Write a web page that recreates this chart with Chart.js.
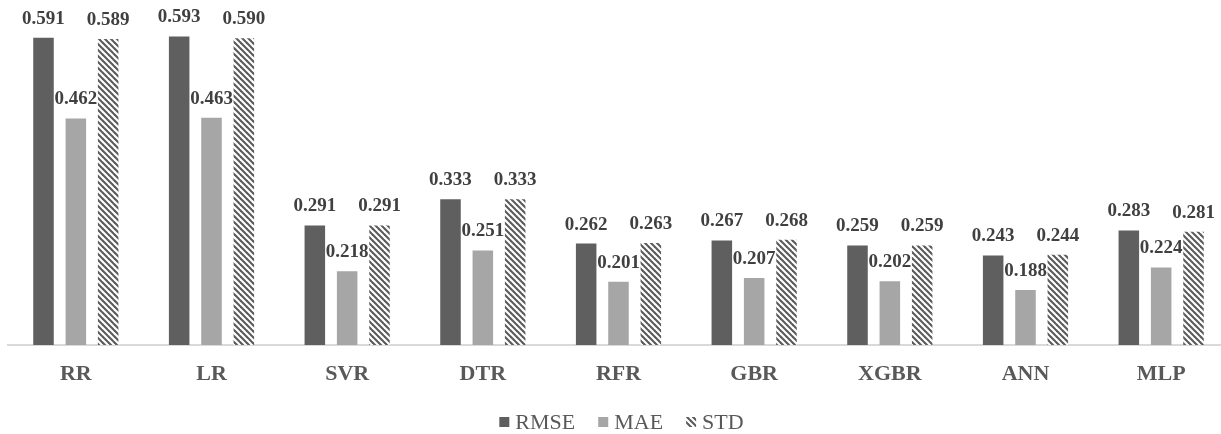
<!DOCTYPE html>
<html>
<head>
<meta charset="utf-8">
<script src="https://cdn.jsdelivr.net/npm/chart.js@4/dist/chart.umd.min.js"></script>
<style>
  html, body { margin: 0; padding: 0; background: #ffffff; overflow: hidden; }
  #wrap { position: relative; width: 1229px; height: 443px; }
</style>
</head>
<body>
<div id="wrap"><canvas id="chart"></canvas></div>
<script>
// Model names along the x axis
const models = ['RR', 'LR', 'SVR', 'DTR', 'RFR', 'GBR', 'XGBR', 'ANN', 'MLP'];

// Error metrics per model
const rmse = [0.591, 0.593, 0.291, 0.333, 0.262, 0.267, 0.259, 0.243, 0.283];
const mae  = [0.462, 0.463, 0.218, 0.251, 0.201, 0.207, 0.202, 0.188, 0.224];
const std  = [0.589, 0.590, 0.291, 0.333, 0.263, 0.268, 0.259, 0.244, 0.281];

const SERIF = '"Liberation Serif", "Times New Roman", serif';
Chart.defaults.font.family = SERIF;

// Diagonal hatch fill for the STD bars
function makeHatch() {
  const n = 6;
  const c = document.createElement('canvas');
  c.width = n; c.height = n;
  const g = c.getContext('2d');
  g.fillStyle = '#ffffff';
  g.fillRect(0, 0, n, n);
  g.strokeStyle = '#5c5c5c';
  g.lineWidth = 2.1;
  for (let k = -1; k <= 1; k++) {
    g.beginPath();
    g.moveTo(k * n - 1, -1);
    g.lineTo(k * n + n + 1, n + 1);
    g.stroke();
  }
  return g.createPattern(c, 'repeat');
}

// Value printed above every bar
const valueLabels = {
  id: 'valueLabels',
  afterDatasetsDraw(chart) {
    const ctx = chart.ctx;
    ctx.save();
    ctx.font = 'bold 19px ' + SERIF;
    ctx.fillStyle = '#404040';
    ctx.textAlign = 'center';
    ctx.textBaseline = 'alphabetic';
    chart.data.datasets.forEach((ds, i) => {
      const meta = chart.getDatasetMeta(i);
      meta.data.forEach((bar, j) => {
        ctx.fillText(ds.data[j].toFixed(3), bar.x, bar.y - 14);
      });
    });
    ctx.restore();
  }
};

// Compact legend row under the axis: swatch, short gap, series name
const seriesKey = {
  id: 'seriesKey',
  afterDraw(chart) {
    const ctx = chart.ctx;
    const box = 10, gap = 6, spacing = 23;
    const baseline = chart.chartArea.bottom + 84;
    ctx.save();
    ctx.font = '22px ' + SERIF;
    ctx.textBaseline = 'alphabetic';
    ctx.textAlign = 'left';
    const items = chart.data.datasets.map(ds => ({
      text: ds.label, fill: ds.backgroundColor, w: ctx.measureText(ds.label).width
    }));
    const total = items.reduce((s, it) => s + box + gap + it.w, 0) + spacing * (items.length - 1);
    let x = (chart.chartArea.left + chart.chartArea.right) / 2 + 3 - total / 2;
    items.forEach(it => {
      ctx.fillStyle = it.fill;
      ctx.fillRect(x, baseline - 12, box, box);
      ctx.fillStyle = '#595959';
      ctx.fillText(it.text, x + box + gap, baseline);
      x += box + gap + it.w + spacing;
    });
    ctx.restore();
  }
};

new Chart(document.getElementById('chart'), {
  type: 'bar',
  data: {
    labels: models,
    datasets: [
      { label: 'RMSE', data: rmse, backgroundColor: '#5f5f5f' },
      { label: 'MAE',  data: mae,  backgroundColor: '#a6a6a6' },
      { label: 'STD',  data: std,  backgroundColor: makeHatch() }
    ]
  },
  options: {
    responsive: true,
    maintainAspectRatio: false,
    animation: false,
    layout: { padding: { top: 32, left: 8, right: 0, bottom: 0 } },
    datasets: {
      bar: { categoryPercentage: 0.715, barPercentage: 0.635, borderWidth: 0 }
    },
    scales: {
      x: {
        grid: { display: false, drawTicks: false },
        border: { display: true, color: '#d9d9d9', width: 2 },
        ticks: {
          color: '#595959',
          padding: 16,
          font: { family: SERIF, size: 22, weight: 'bold' }
        },
        afterFit(scale) { scale.height = 98; }
      },
      y: { display: false, min: 0.1, max: 0.6 }
    },
    plugins: {
      legend: { display: false },
      tooltip: { enabled: false }
    }
  },
  plugins: [valueLabels, seriesKey]
});
</script>
</body>
</html>
